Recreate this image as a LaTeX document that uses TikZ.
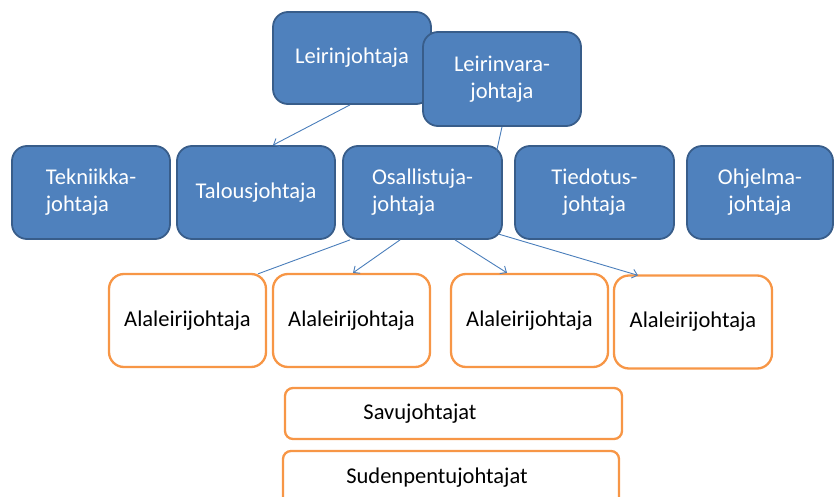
\documentclass[tikz,border=0pt]{standalone}
\usepackage{fontspec}
\setmainfont{Carlito}
\usetikzlibrary{arrows.meta}
\definecolor{boxblue}{HTML}{4F81BD}
\definecolor{boxedge}{HTML}{385D8A}
\definecolor{boxorange}{HTML}{F79646}
\definecolor{lineblue}{HTML}{4A7EBB}
\begin{document}
\begin{tikzpicture}[x=1pt, y=-1pt,
	johtaja/.style = {draw=boxedge, line width=1.8pt, fill=boxblue, rounded corners=15pt, text=white, align=center, minimum width=158pt, minimum height=93pt, inner sep=2pt, font=\fontsize{22.5}{27}\selectfont},
	alaleiri/.style = {draw=boxorange, line width=2.3pt, fill=white, rounded corners=15pt, minimum width=157pt, minimum height=93pt, inner sep=2pt, font=\fontsize{22.5}{27}\selectfont},
	ryhma/.style = {draw=boxorange, line width=2.3pt, fill=white, rounded corners=8pt, minimum height=51pt, inner sep=0pt},
	ryhmateksti/.style = {font=\fontsize{22.5}{27}\selectfont, inner sep=0pt},
	yhteys/.style = {draw=lineblue, line width=0.9pt},
	nuoli/.style = {yhteys, -{Straight Barb[length=5pt,width=9pt]}},]
		\useasboundingbox (0,0) rectangle (835,497);

		\node[johtaja, minimum height=92pt] (leiri) at (352,58) {Leirinjohtaja};
		\node[johtaja, minimum height=94pt] (varaj) at (502,79) {Leirinvara-\\johtaja};

		\node[johtaja, align=left] (tekn) at (91,192.5) {Tekniikka-\\johtaja};
		\node[johtaja] (talous) at (256,192.5) {Talousjohtaja};
		\node[johtaja, align=left, minimum width=159pt] (osall) at (422.5,192.5) {Osallistuja-\\johtaja};
		\node[johtaja, minimum width=159pt] (tiedot) at (594.5,192.5) {Tiedotus-\\johtaja};
		\node[johtaja, minimum width=146pt] (ohjelma) at (760,192.5) {Ohjelma-\\johtaja};

		\node[alaleiri] (ala1) at (187.5,320.5) {Alaleirijohtaja};
		\node[alaleiri] (ala2) at (351.5,320.5) {Alaleirijohtaja};
		\node[alaleiri] (ala3) at (529.5,320.5) {Alaleirijohtaja};
		\node[alaleiri, minimum width=158pt] (ala4) at (693,322) {Alaleirijohtaja};

		\node[ryhma, minimum width=337pt, label={[ryhmateksti, xshift=-33.5pt]center:Savujohtajat}] (savu) at (453.5,413.5) {};
		\node[ryhma, minimum width=336pt, minimum height=57pt, label={[ryhmateksti, xshift=-14pt, yshift=1.5pt]center:Sudenpentujohtajat}] (suden) at (451,479.5) {};

		\draw[nuoli] ([xshift=-2pt]leiri.south) -- ([xshift=17pt]talous.north);
		\draw[yhteys] (varaj.south) -- ([xshift=-6.5pt, yshift=-7pt]osall.north east);
		\draw[yhteys] ([xshift=-72.5pt]osall.south) -- ([xshift=70.5pt, yshift=-1pt]ala1.north);
		\draw[nuoli] ([xshift=-22.5pt]osall.south) -- ([xshift=1.5pt]ala2.north);
		\draw[nuoli] ([xshift=32.5pt]osall.south) -- ([xshift=-22.5pt]ala3.north);
		\draw[nuoli] ([xshift=75.5pt, yshift=6pt]osall.south) -- ([xshift=-55pt, yshift=-1pt]ala4.north);
	\end{tikzpicture}
\end{document}
